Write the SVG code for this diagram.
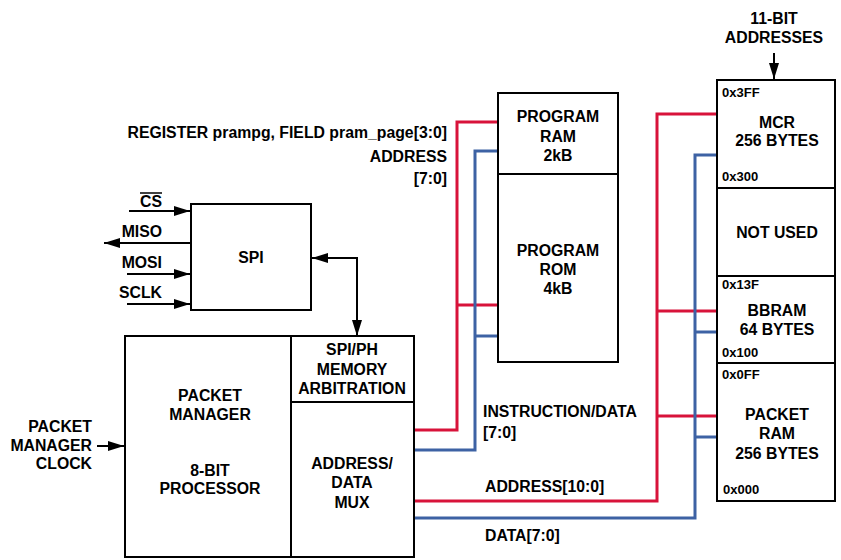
<svg xmlns="http://www.w3.org/2000/svg" width="841" height="560" viewBox="0 0 841 560">
<defs>
<marker id="ah" viewBox="0 0 16 10" refX="16" refY="5" markerWidth="16" markerHeight="10" markerUnits="userSpaceOnUse" orient="auto-start-reverse">
<path d="M0,0 L16,5 L0,10 Z" fill="#000"/>
</marker>
<style>
text{font-family:"Liberation Sans",Arial,sans-serif;font-weight:bold;font-size:15.8px;fill:#000}
.c{text-anchor:middle}
.e{text-anchor:end}
.h{font-size:13px}
.box{fill:#fff;stroke:#000;stroke-width:2}
.div{stroke:#000;stroke-width:2;fill:none}
.arr{stroke:#000;stroke-width:2;fill:none}
.red{stroke:#d8133a;stroke-width:3;fill:none}
.blue{stroke:#3d62a4;stroke-width:3;fill:none}
</style>
</defs>
<rect width="841" height="560" fill="#fff"/>

<g id="connectors">
<polyline class="red" points="414,430 457,430 457,122 498,122"/>
<line class="red" x1="457" y1="305" x2="498" y2="305"/>
<polyline class="blue" points="414,450 475,450 475,151 498,151"/>
<line class="blue" x1="475" y1="336" x2="498" y2="336"/>
<polyline class="red" points="414,501 657,501 657,114 717,114"/>
<line class="red" x1="657" y1="311" x2="717" y2="311"/>
<line class="red" x1="657" y1="416" x2="717" y2="416"/>
<polyline class="blue" points="414,518 695,518 695,155 717,155"/>
<line class="blue" x1="695" y1="332" x2="717" y2="332"/>
<line class="blue" x1="695" y1="437" x2="717" y2="437"/>
<line class="arr" x1="129" y1="211" x2="190" y2="211" marker-end="url(#ah)"/>
<line class="arr" x1="190" y1="243" x2="104" y2="243" marker-end="url(#ah)"/>
<line class="arr" x1="127" y1="274" x2="190" y2="274" marker-end="url(#ah)"/>
<line class="arr" x1="127" y1="304" x2="190" y2="304" marker-end="url(#ah)"/>
<polyline class="arr" points="312,258 357,258 357,336" marker-start="url(#ah)" marker-end="url(#ah)"/>
<line class="arr" x1="97" y1="446" x2="124" y2="446" marker-end="url(#ah)"/>
<line class="arr" x1="774" y1="53" x2="774" y2="79" marker-end="url(#ah)"/>
</g>

<g id="labels">
<text class="e" x="447" y="138">REGISTER prampg, FIELD pram_page[3:0]</text>
<text class="e" x="447" y="162">ADDRESS</text>
<text class="e" x="447" y="184">[7:0]</text>
<text class="e" x="162" y="207">CS</text>
<line x1="140" y1="193" x2="162" y2="193" stroke="#000" stroke-width="1.5"/>
<text class="e" x="162" y="237">MISO</text>
<text class="e" x="162" y="268">MOSI</text>
<text class="e" x="162" y="298">SCLK</text>
<text class="e" x="92" y="432">PACKET</text>
<text class="e" x="92" y="451">MANAGER</text>
<text class="e" x="92" y="469">CLOCK</text>
<text x="483" y="417">INSTRUCTION/DATA</text>
<text x="483" y="438">[7:0]</text>
<text x="485" y="492">ADDRESS[10:0]</text>
<text x="485" y="541">DATA[7:0]</text>
<text class="c" x="774" y="24">11-BIT</text>
<text class="c" x="774" y="43">ADDRESSES</text>
</g>

<g id="spi">
<rect class="box" x="191" y="204" width="120" height="106"/>
<text class="c" x="251" y="263">SPI</text>
</g>

<g id="packet-manager">
<rect class="box" x="125" y="336" width="289" height="221"/>
<line class="div" x1="291" y1="336" x2="291" y2="557"/>
<text class="c" x="210" y="401">PACKET</text>
<text class="c" x="210" y="420">MANAGER</text>
<text class="c" x="210" y="476">8-BIT</text>
<text class="c" x="210" y="494">PROCESSOR</text>
</g>

<g id="arbitration">
<line class="div" x1="291" y1="402" x2="414" y2="402"/>
<text class="c" x="352" y="355">SPI/PH</text>
<text class="c" x="352" y="375">MEMORY</text>
<text class="c" x="352" y="394">ARBITRATION</text>
</g>

<g id="mux">
<text class="c" x="352" y="469">ADDRESS/</text>
<text class="c" x="352" y="488">DATA</text>
<text class="c" x="352" y="508">MUX</text>
</g>

<g id="program-ram">
<rect class="box" x="498" y="93" width="120" height="81"/>
<text class="c" x="558" y="122">PROGRAM</text>
<text class="c" x="558" y="142">RAM</text>
<text class="c" x="558" y="161">2kB</text>
</g>

<g id="program-rom">
<rect class="box" x="498" y="174" width="120" height="188"/>
<text class="c" x="558" y="256">PROGRAM</text>
<text class="c" x="558" y="275">ROM</text>
<text class="c" x="558" y="294">4kB</text>
</g>

<g id="mcr">
<rect class="box" x="717" y="80" width="118" height="108"/>
<text class="h" x="722" y="97">0x3FF</text>
<text class="c" x="777" y="128">MCR</text>
<text class="c" x="777" y="146">256 BYTES</text>
<text class="h" x="722" y="181">0x300</text>
</g>

<g id="not-used">
<rect class="box" x="717" y="188" width="118" height="88"/>
<text class="c" x="777" y="238">NOT USED</text>
</g>

<g id="bbram">
<rect class="box" x="717" y="276" width="118" height="87"/>
<text class="h" x="722" y="289">0x13F</text>
<text class="c" x="777" y="316">BBRAM</text>
<text class="c" x="777" y="335">64 BYTES</text>
<text class="h" x="722" y="357">0x100</text>
</g>

<g id="packet-ram">
<rect class="box" x="717" y="363" width="118" height="138"/>
<text class="h" x="722" y="379">0x0FF</text>
<text class="c" x="777" y="420">PACKET</text>
<text class="c" x="777" y="439">RAM</text>
<text class="c" x="777" y="459">256 BYTES</text>
<text class="h" x="723" y="494">0x000</text>
</g>
</svg>
